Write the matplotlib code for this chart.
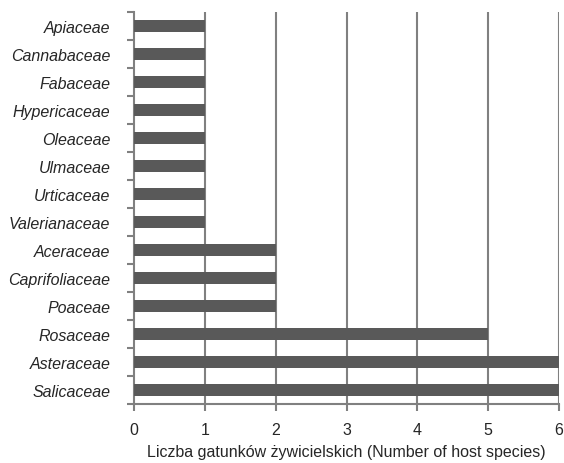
import matplotlib
matplotlib.use("Agg")
import matplotlib.pyplot as plt
import numpy as np
from matplotlib.ticker import FixedLocator

families = ["Apiaceae", "Cannabaceae", "Fabaceae", "Hypericaceae", "Oleaceae", "Ulmaceae",
            "Urticaceae", "Valerianaceae", "Aceraceae", "Caprifoliaceae", "Poaceae",
            "Rosaceae", "Asteraceae", "Salicaceae"]
counts = [1, 1, 1, 1, 1, 1, 1, 1, 2, 2, 2, 5, 6, 6]
xticks = [0, 1, 2, 3, 4, 5, 6]
xlabel = "Liczba gatunków żywicielskich (Number of host species)"

plt.rcParams['font.family'] = ['Liberation Sans', 'DejaVu Sans']
txt = "#262626"
fig = plt.figure(figsize=(5.64, 4.64), dpi=100)
ax = fig.add_axes([134/564, 1-405/464, (559-134)/564, (405-13)/464])

n = len(families)
y = np.arange(n)
ax.barh(y, counts, height=0.44, color="#595959", zorder=3)
ax.set_ylim(n - 0.5, -0.5)
ax.set_xlim(0, 6)
ax.set_xticks(xticks)
ax.set_yticks(y)
ax.set_yticklabels(families, style="italic", fontsize=11.5, color=txt)
ax.tick_params(axis='y', which='major', length=0, pad=17)
ax.yaxis.set_minor_locator(FixedLocator(np.arange(-0.5, n + 0.5, 1)))
ax.tick_params(axis='y', which='minor', length=5, width=1.5, color="#808080")
ax.tick_params(axis='x', which='major', length=5, width=1.5, color="#808080",
               labelsize=11.5, labelcolor=txt, pad=8)
for xv in xticks[1:]:
    ax.axvline(xv, color="#808080", lw=1.5, zorder=2)
for s in ["top", "right"]:
    ax.spines[s].set_visible(False)
for s in ["left", "bottom"]:
    ax.spines[s].set_color("#808080")
    ax.spines[s].set_linewidth(1.5)
ax.set_xlabel(xlabel, fontsize=11.5, color=txt, labelpad=5)
fig.savefig("out.png", dpi=100)
